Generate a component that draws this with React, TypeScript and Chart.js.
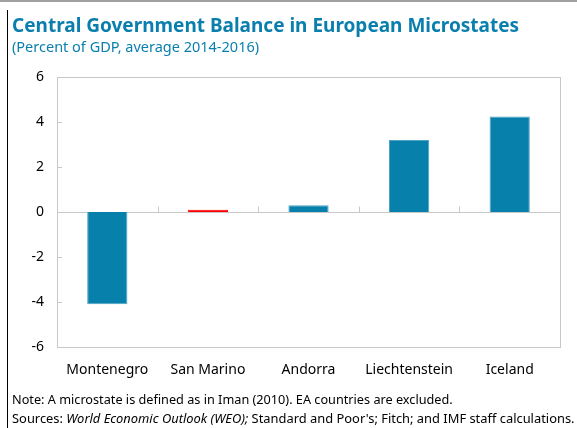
import React, { useEffect, useRef } from "react";
import { Chart, registerables } from "chart.js";

Chart.register(...registerables);

const categories = ["Montenegro", "San Marino", "Andorra", "Liechtenstein", "Iceland"];
const values = [-4.1, 0.1, 0.3, 3.2, 4.25];
const barColors = ["#0780ab", "#ff0000", "#0780ab", "#0780ab", "#0780ab"];
const borderColors = ["#4ea3c4", "#ff0000", "#4ea3c4", "#4ea3c4", "#4ea3c4"];
const yTicks = [-6, -4, -2, 0, 2, 4, 6];

const titleText = "Central Government Balance in European Microstates";
const subtitleText = "(Percent of GDP, average 2014-2016)";
const noteText = "Note: A microstate is defined as in Iman (2010). EA countries are excluded.";
const sourcesParts = [
  { t: "Sources: ", italic: false },
  { t: "World Economic Outlook (WEO);", italic: true },
  { t: " Standard and Poor's; Fitch; and IMF staff calculations.", italic: false },
];

const FONT = "'Noto Sans', 'Open Sans', sans-serif";
const BLUE = "#0a7fae";

const decorPlugin = {
  id: "decor",
  beforeDatasetsDraw(chart: any) {
    const { ctx, chartArea: a, scales } = chart;
    const y = scales.y;
    const x = scales.x;
    ctx.save();
    ctx.strokeStyle = "#c8c8c8";
    ctx.lineWidth = 1;
    ctx.strokeRect(Math.round(a.left) + 0.5, Math.round(a.top) + 0.5, Math.round(a.right - a.left), Math.round(a.bottom - a.top));
    const y0 = Math.round(y.getPixelForValue(0)) + 0.5;
    ctx.beginPath();
    ctx.moveTo(a.left, y0);
    ctx.lineTo(a.right, y0);
    for (const v of yTicks) {
      if (v === 0 || v === 6 || v === -6) continue;
      const py = Math.round(y.getPixelForValue(v)) + 0.5;
      ctx.moveTo(a.left, py);
      ctx.lineTo(a.left + 5, py);
    }
    for (let i = 0; i < categories.length - 1; i++) {
      const px = Math.round((x.getPixelForValue(i) + x.getPixelForValue(i + 1)) / 2) + 0.5;
      ctx.moveTo(px, y0);
      ctx.lineTo(px, y0 - 6);
    }
    ctx.stroke();
    ctx.restore();
  },
  afterDraw(chart: any) {
    const { ctx } = chart;
    ctx.save();
    // frame lines
    ctx.fillStyle = "#a0a0a0";
    ctx.fillRect(0, 0, 577, 2);
    ctx.fillStyle = "#000000";
    ctx.fillRect(7, 10, 1, 418);
    // title
    ctx.fillStyle = BLUE;
    ctx.textBaseline = "alphabetic";
    ctx.textAlign = "left";
    ctx.font = `bold 19px ${FONT}`;
    ctx.fillText(titleText, 12, 32);
    ctx.font = `14.5px ${FONT}`;
    ctx.fillText(subtitleText, 12, 52);
    // notes
    ctx.fillStyle = "#000000";
    ctx.font = `12.7px ${FONT}`;
    ctx.fillText(noteText, 12, 404);
    let xx = 12;
    for (const p of sourcesParts) {
      ctx.font = `${p.italic ? "italic " : ""}12.9px ${FONT}`;
      ctx.fillText(p.t, xx, 423);
      xx += ctx.measureText(p.t).width;
    }
    ctx.restore();
  },
};

export default function App() {
  const ref = useRef<HTMLCanvasElement | null>(null);
  useEffect(() => {
    if (!ref.current) return;
    const chart = new Chart(ref.current, {
      type: "bar",
      data: {
        labels: categories,
        datasets: [
          {
            data: values,
            backgroundColor: barColors,
            borderColor: borderColors,
            borderWidth: 1,
            barPercentage: 0.8,
            categoryPercentage: 0.5,
          },
        ],
      },
      options: {
        animation: false,
        responsive: false,
        maintainAspectRatio: false,
        layout: { padding: { top: 77, right: 17, bottom: 0, left: 0 } },
        plugins: { legend: { display: false }, tooltip: { enabled: false }, title: { display: false } },
        scales: {
          x: {
            grid: { display: false, drawTicks: false },
            border: { display: false },
            ticks: { color: "#000", font: { family: FONT, size: 14 }, padding: 15, maxRotation: 0 },
            afterFit(s: any) {
              s.height = 81;
            },
          },
          y: {
            min: -6,
            max: 6,
            afterBuildTicks(s: any) {
              s.ticks = yTicks.map((v) => ({ value: v }));
            },
            grid: { display: false, drawTicks: false },
            border: { display: false },
            ticks: { color: "#000", font: { family: FONT, size: 14 }, padding: 13 },
            afterFit(s: any) {
              s.width = 57;
            },
          },
        },
      },
      plugins: [decorPlugin],
    });
    return () => chart.destroy();
  }, []);
  return (
    <div style={{ position: "fixed", left: 0, top: 0, width: 577, height: 428, background: "#fff" }}>
      <canvas ref={ref} width={577} height={428} style={{ width: 577, height: 428, display: "block" }} />
    </div>
  );
}
